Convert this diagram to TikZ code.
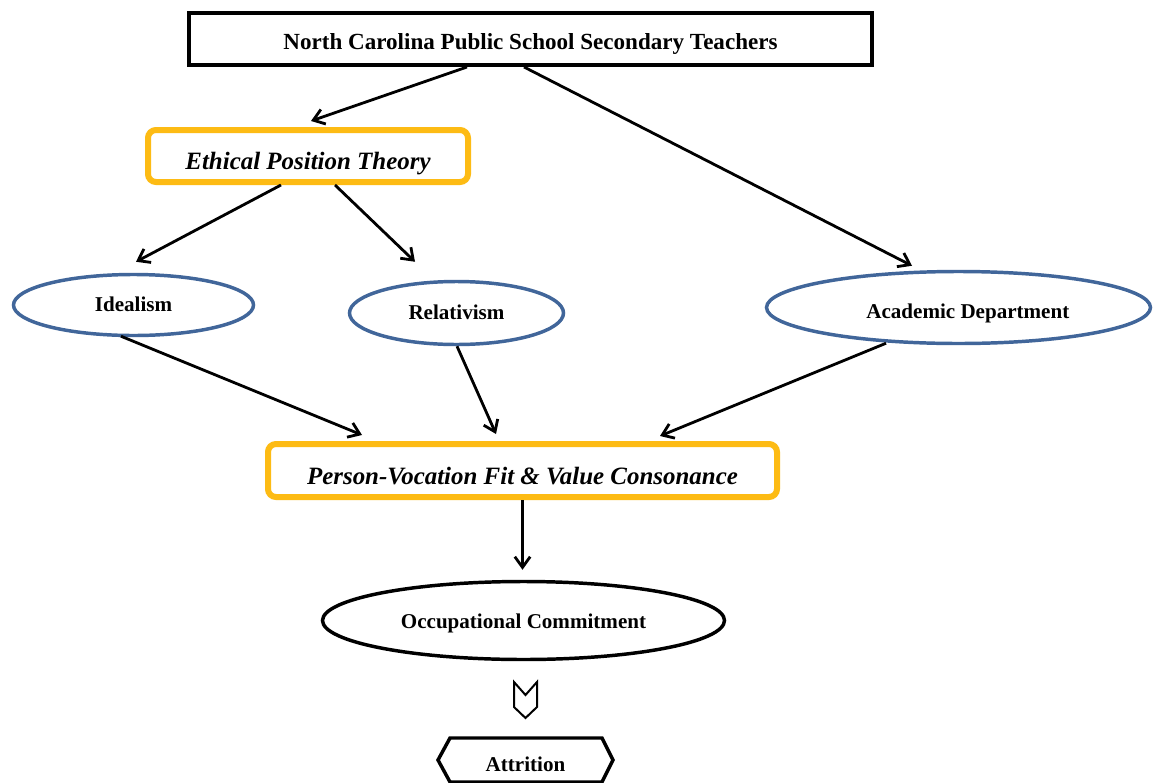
\documentclass[tikz,border=0pt]{standalone}
\usepackage{fontspec}
\setmainfont{Liberation Serif}
\usetikzlibrary{arrows.meta,calc,shapes.geometric}
\definecolor{gold}{HTML}{FDBB14}
\definecolor{steel}{HTML}{41669A}
\begin{document}
\begin{tikzpicture}[x=0.75pt,y=-0.75pt,
 lbl/.style={font=\fontsize{15.8}{19}\selectfont\bfseries, inner sep=0pt, text depth=0pt},
 blackbox/.style={lbl, font=\fontsize{17.3}{20}\selectfont\bfseries, draw=black, line width=3pt, rectangle},
 goldbox/.style={lbl, font=\fontsize{18.7}{22}\selectfont\bfseries\itshape, draw=gold, line width=4.5pt, rounded corners=6pt, rectangle},
 blueell/.style={lbl, draw=steel, line width=2.6pt, ellipse},
 blackell/.style={lbl, draw=black, line width=2.6pt, ellipse},
 arr/.style={-{Straight Barb[length=8pt,width=11.5pt]}, line width=2.1pt},
 hexa/.style={line width=2.6pt, line join=miter},
 chev/.style={line width=1.5pt, line join=miter}
]
\useasboundingbox (0,0) rectangle (1153,782);
\fill[white] (0,0) rectangle (1153,782);

\node[blackbox, minimum width=512pt, minimum height=39pt, text height=15.9pt] (top) at (530.5,39) {North Carolina Public School Secondary Teachers};
\node[goldbox, minimum width=240pt, minimum height=39pt, text height=19.8pt] (eth) at (308,156) {Ethical Position Theory};
\node[blueell, minimum width=180pt, minimum height=45.75pt, text height=10.4pt] (ideal) at (133.5,305) {Idealism};
\node[blueell, minimum width=160.5pt, minimum height=47.25pt, text height=9pt] (rel) at (456.5,313) {Relativism};
\node[blueell, minimum width=288pt, minimum height=54pt, text height=15.8pt] (acad) at (958.5,307.5) {\hspace*{14pt}Academic Department};
\node[goldbox, minimum width=381.75pt, minimum height=39.75pt, text height=20.7pt] (pv) at (522.5,470.5) {Person-Vocation Fit \& Value Consonance};
\node[blackell, minimum width=301.5pt, minimum height=58.5pt, text height=11.25pt] (occ) at (523.5,620.5) {Occupational Commitment};
\node[lbl, text height=16.5pt] (attr) at (525.5,760) {Attrition};

\draw[hexa] (450,738) -- (602,738) -- (613,760) -- (602,782) -- (450,782) -- (438,760) -- cycle;
\draw[chev] (514,682) -- (525.5,695) -- (537,682) -- (537,707) -- (525.5,718) -- (514,707) -- cycle;

\draw[arr] ($(top.south)+(-63.5,0)$) -- ($(eth.north)+(3,-6)$);
\draw[arr] ($(top.south)+(-6.5,0)$) -- ($(acad.north)+(-46.5,-4)$);
\draw[arr] ($(eth.south)+(-27,0)$) -- ($(ideal.north)+(2.5,-11)$);
\draw[arr] ($(eth.south)+(27,0)$) -- ($(rel.north)+(-41.5,-18)$);
\draw[arr] ($(ideal.south)+(-12.5,-1)$) -- ($(pv.north)+(-160.5,-6)$);
\draw[arr] ($(rel.south)+(0.5,0)$) -- ($(pv.north)+(-26.5,-7)$);
\draw[arr] ($(acad.south)+(-72.5,-2)$) -- ($(pv.north)+(137.5,-5)$);
\draw[arr] (pv.south) -- ($(occ.north)+(-1,-10)$);
\end{tikzpicture}
\end{document}
